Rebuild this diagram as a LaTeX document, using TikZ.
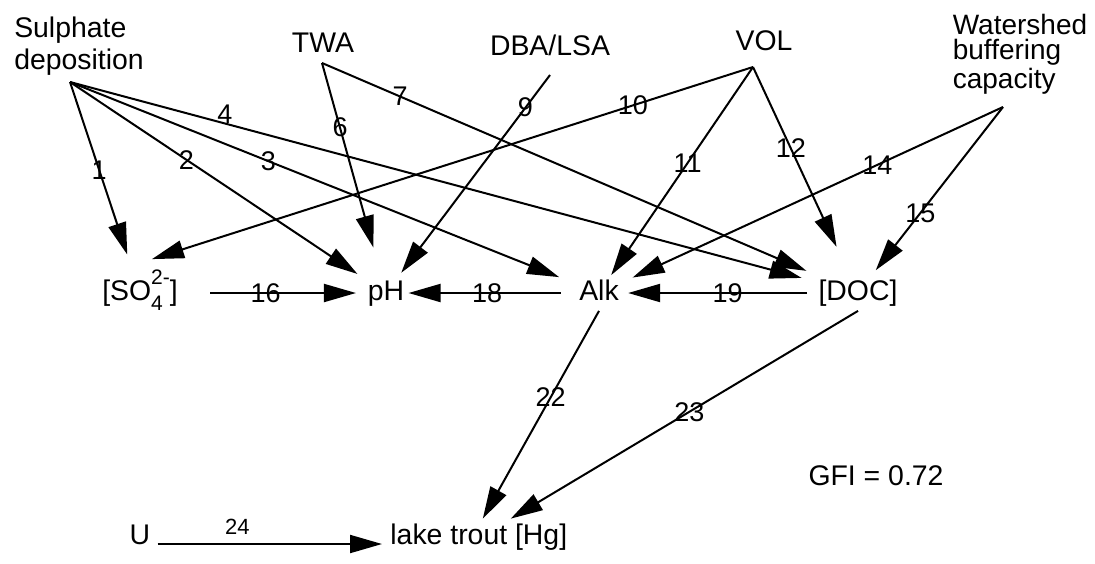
\documentclass[tikz,border=0pt]{standalone}
\usepackage{fontspec}
\setmainfont{Liberation Sans}
\usetikzlibrary{arrows.meta}
\newcommand{\subsz}{\fontsize{10.5}{11}\selectfont}
\begin{document}
\begin{tikzpicture}[x=0.5pt,y=-0.5pt,
  var/.style={font=\fontsize{14.2}{16}\selectfont, inner sep=2pt, text height=10.5pt, text depth=3pt},
  src/.style={font=\fontsize{14.2}{16}\selectfont, inner sep=0pt, align=left},
  lbl/.style={font=\fontsize{13.5}{14}\selectfont, inner sep=0.5pt},
  arr/.style={line width=1pt, -{Triangle[length=16pt,width=9pt]}},
]
\path[use as bounding box] (0,0) rectangle (1095,563);

% sources
\node[src] (sd) at (79,46) {Sulphate\\deposition};
\node[src, anchor=base] (twa) at (323,52) {TWA};
\node[src, anchor=base] (dba) at (550,55) {DBA/LSA};
\node[src, anchor=base] (vol) at (764,50) {VOL};
\node[src, font=\fontsize{14}{12.75}\selectfont] (wbc) at (1020,54) {Watershed\\buffering\\capacity};

\coordinate (sdT) at (70,82);
\coordinate (twaT) at (322,63);
\coordinate (dbaT) at (550,75);
\coordinate (volT) at (753,67);
\coordinate (wbcT) at (1003,107);

% row
\node[var] (so4) at (140,293) {[SO\rlap{\raisebox{-5pt}{\subsz 4}}\raisebox{8pt}{\subsz 2-}]};
\node[var] (ph) at (386,293) {pH};
\node[var] (alk) at (599,293) {Alk};
\node[var] (doc) at (858,293) {[DOC]};

% bottom
\node[var, anchor=base west] (lt) at (386,544) {lake trout [Hg]};
\node[var, anchor=base] (u) at (140,544) {U};
\node[src, anchor=base] (gfi) at (876,485) {GFI = 0.72};

% edges
\draw[arr, shorten >=10.8pt] (sdT) -- node[lbl,pos=0.456]{1} (so4);
\draw[arr, shorten >=3.6pt] (sdT) -- node[lbl,pos=0.397]{2} (ph);
\draw[arr, shorten >=8.5pt] (sdT) -- node[lbl,pos=0.393]{3} (alk);
\draw[arr, shorten >=6.5pt] (sdT) -- node[lbl,pos=0.208,yshift=4.5pt]{4} (doc);
\draw[arr, shorten >=14.3pt] (twaT) -- node[lbl,pos=0.305]{6} (ph);
\draw[arr, shorten >=5.4pt] (twaT) -- node[lbl,pos=0.158]{7} (doc);
\draw[arr, shorten >=1.5pt] (dbaT) -- node[lbl,pos=0.163]{9} (ph);
\draw[arr] (volT) -- node[lbl,pos=0.2]{10} ([shift={(6pt,8pt)}]so4.north);
\draw[arr] (volT) -- node[lbl,pos=0.461]{11} (alk);
\draw[arr, shorten >=15.6pt] (volT) -- node[lbl,pos=0.391]{12} (doc);
\draw[arr, shorten >=5.2pt] (wbcT) -- node[lbl,pos=0.331]{14} (alk);
\draw[arr, shorten >=3.1pt] (wbcT) -- node[lbl,pos=0.631]{15} (doc);
\draw[arr, shorten <=14pt, shorten >=3.75pt] (so4) -- node[lbl,pos=0.46]{16} (ph);
\draw[arr, shorten <=7pt] (alk) -- node[lbl,pos=0.528]{18} (ph);
\draw[arr, shorten <=3.5pt, shorten >=2.5pt] (doc) -- node[lbl,pos=0.453]{19} (alk);
\draw[arr] (alk.south) -- node[lbl,pos=0.417]{22} ([xshift=2pt]lt.north);
\draw[arr] (doc.south) -- node[lbl,pos=0.486]{23} ([xshift=16pt]lt.north);
\draw[arr, shorten <=1.5pt, shorten >=2pt] (u.base east) -- node[pos=0.358, yshift=8.5pt, font=\fontsize{11}{12}\selectfont, inner sep=0.5pt]{24} (lt.base west);
\end{tikzpicture}
\end{document}
